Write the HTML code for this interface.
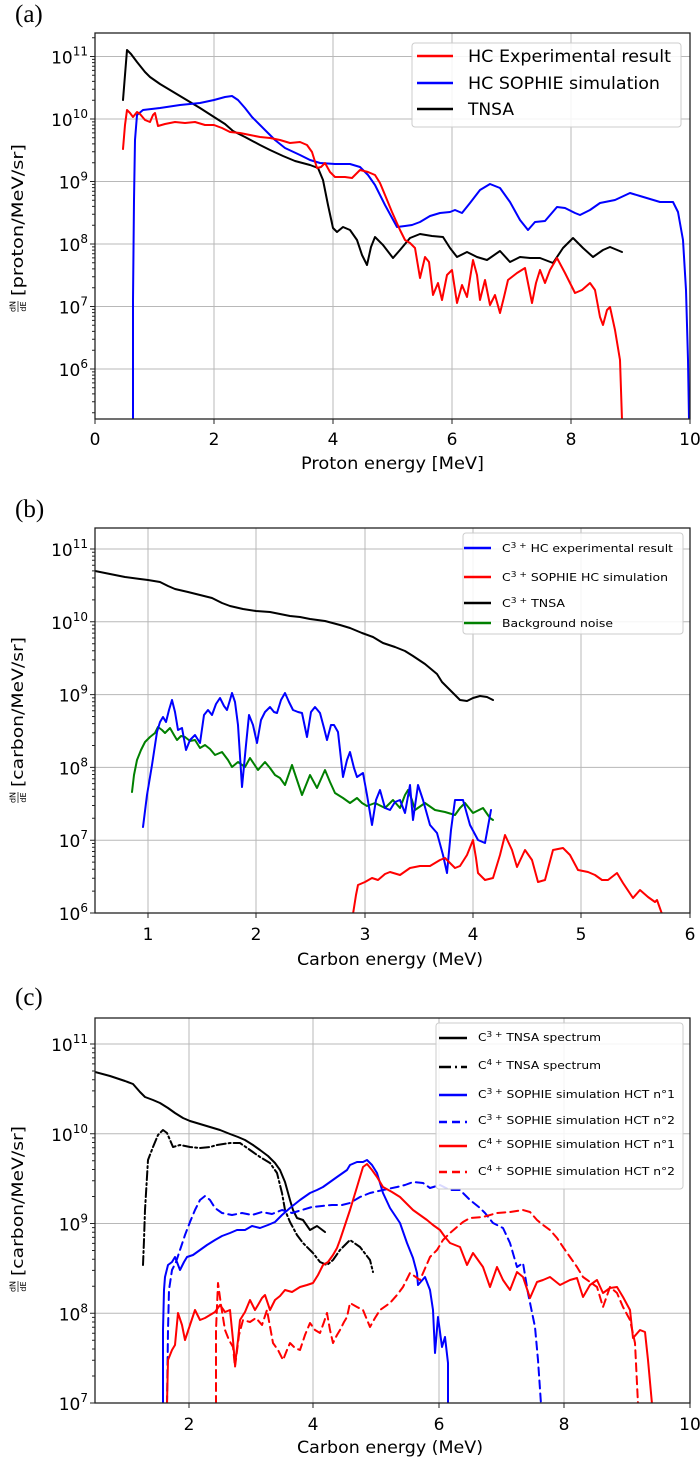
<!DOCTYPE html>
<html><head><meta charset="utf-8"><style>
html,body{margin:0;padding:0;background:#fff;}
svg{display:block;}
text{font-family:"DejaVu Sans","Liberation Sans",sans-serif;fill:#000;}
.ser{font-family:"Liberation Serif",serif;}
.grid{stroke:#b8b8b8;stroke-width:1;fill:none;}
.ax{stroke:#222;stroke-width:1.3;fill:none;}
.tk{stroke:#222;stroke-width:1;fill:none;}
.c{fill:none;stroke-width:2;stroke-linejoin:round;stroke-linecap:round;}
</style></head><body>
<svg width="700" height="1460" viewBox="0 0 700 1460" xmlns="http://www.w3.org/2000/svg">
<defs>
<clipPath id="ca"><rect x="95" y="33" width="595" height="386"/></clipPath>
<clipPath id="cb"><rect x="95" y="528" width="595" height="385"/></clipPath>
<clipPath id="cc"><rect x="95" y="1018" width="595" height="385"/></clipPath>
</defs>

<!-- ================= PANEL A ================= -->
<text class="ser" x="15" y="22" font-size="25">(a)</text>
<path class="grid" d="M214,33V419M333,33V419M452,33V419M571,33V419M95,56.5H690M95,119H690M95,181.5H690M95,244H690M95,306.5H690M95,369H690"/>
<g clip-path="url(#ca)">
<polyline class="c" stroke="#000" points="123,100 127,50 131,54 137,62 145,72 150,77 160,84 170,90 180,96 190,102 200,108 214,117 225,124 233,131 245,137 260,145 270,150 283,156 295,161 310,165 318,168 323,180 328,205 333,228 337,232 343,227 350,230 357,240 362,255 367,265 371,247 375,237 383,245 393,258 400,250 410,238 420,234 432,236 443,237 450,248 457,257 467,252 477,257 487,260 500,251 510,262 520,257 530,258 540,258 553,263 563,248 573,238 583,248 593,257 603,250 610,247 622,252"/>
<polyline class="c" stroke="#0000ff" points="133,419 133,300 134,200 135,140 137,115 143,110 160,108 180,105 200,103 214,100 225,97 232,96 238,100 245,108 252,117 260,125 268,133 275,140 285,148 300,155 310,160 320,163 335,164 350,164 360,167 368,175 375,185 385,205 397,227 405,226 412,225 420,222 430,216 440,213 450,212 455,210 462,213 470,203 480,190 490,184 500,188 510,202 520,220 528,230 535,222 545,221 557,207 565,208 575,213 580,215 590,210 600,203 615,200 630,193 640,196 650,199 660,202 667,202 673,202 678,212 683,240 686,290 688,360 689,419"/>
<polyline class="c" stroke="#ff0000" points="123,149 125,125 127,110 130,113 133,117 137,112 140,114 145,120 150,122 153,115 155,113 158,126 165,124 175,122 185,123 195,122 205,125 214,125 222,128 230,132 240,133 250,135 260,137 270,138 280,140 290,143 300,142 307,145 312,152 317,168 321,167 325,163 330,172 335,177 345,177 352,178 360,170 368,172 375,175 380,183 385,195 392,212 400,230 405,240 410,243 415,248 420,278 425,257 429,262 433,295 438,283 442,300 447,275 452,270 457,303 462,285 467,297 473,260 477,275 480,300 485,280 490,305 495,295 500,313 504,297 508,280 517,273 525,268 532,303 536,283 540,270 545,283 550,270 557,258 565,273 575,293 582,290 590,283 595,290 600,317 603,325 607,310 610,307 615,330 620,360 622,420"/>
</g>
<rect class="ax" x="95" y="33" width="595" height="386"/>
<path class="tk" d="M95,56.5h-5M95,119h-5M95,181.5h-5M95,244h-5M95,306.5h-5M95,369h-5"/>
<path class="tk" d="M95,37.7h-3M95,100.2h-3M95,89.2h-3M95,81.4h-3M95,75.3h-3M95,70.4h-3M95,66.2h-3M95,62.6h-3M95,59.4h-3M95,162.7h-3M95,151.7h-3M95,143.9h-3M95,137.8h-3M95,132.9h-3M95,128.7h-3M95,125.1h-3M95,121.9h-3M95,225.2h-3M95,214.2h-3M95,206.4h-3M95,200.3h-3M95,195.4h-3M95,191.2h-3M95,187.6h-3M95,184.4h-3M95,287.7h-3M95,276.7h-3M95,268.9h-3M95,262.8h-3M95,257.9h-3M95,253.7h-3M95,250.1h-3M95,246.9h-3M95,350.2h-3M95,339.2h-3M95,331.4h-3M95,325.3h-3M95,320.4h-3M95,316.2h-3M95,312.6h-3M95,309.4h-3M95,412.7h-3M95,401.7h-3M95,393.9h-3M95,387.8h-3M95,382.9h-3M95,378.7h-3M95,375.1h-3M95,371.9h-3"/>
<path class="tk" d="M95,419v5M214,419v5M333,419v5M452,419v5M571,419v5M690,419v5"/>
<g font-size="17" text-anchor="end">
<text x="88" y="63.5">10<tspan dy="-8" font-size="12">11</tspan></text>
<text x="88" y="126">10<tspan dy="-8" font-size="12">10</tspan></text>
<text x="88" y="188.5">10<tspan dy="-8" font-size="12">9</tspan></text>
<text x="88" y="251">10<tspan dy="-8" font-size="12">8</tspan></text>
<text x="88" y="313.5">10<tspan dy="-8" font-size="12">7</tspan></text>
<text x="88" y="376">10<tspan dy="-8" font-size="12">6</tspan></text>
</g>
<g font-size="17" text-anchor="middle">
<text x="95" y="445">0</text><text x="214" y="445">2</text><text x="333" y="445">4</text><text x="452" y="445">6</text><text x="571" y="445">8</text><text x="690" y="445">10</text>
</g>
<text x="301" y="469" font-size="17" textLength="183" lengthAdjust="spacingAndGlyphs">Proton energy [MeV]</text>
<g transform="translate(18,313) rotate(-90)">
<text x="6.5" y="-2.5" font-size="8" text-anchor="middle">dN</text>
<line x1="1" y1="0" x2="12" y2="0" stroke="#000" stroke-width="0.7"/>
<text x="6.5" y="8" font-size="8" text-anchor="middle">dE</text>
<text x="17" y="5" font-size="16" textLength="152" lengthAdjust="spacingAndGlyphs">[proton/MeV/sr]</text>
</g>
<rect x="412" y="43" width="269" height="84" rx="3" fill="#fff" fill-opacity="0.85" stroke="#cccccc"/>
<line x1="417" y1="56" x2="453" y2="56" stroke="#ff0000" stroke-width="2.5"/>
<line x1="417" y1="83" x2="453" y2="83" stroke="#0000ff" stroke-width="2.5"/>
<line x1="417" y1="109" x2="453" y2="109" stroke="#000" stroke-width="2.5"/>
<g font-size="17">
<text x="468" y="62" textLength="203" lengthAdjust="spacingAndGlyphs">HC Experimental result</text>
<text x="468" y="89" textLength="192" lengthAdjust="spacingAndGlyphs">HC SOPHIE simulation</text>
<text x="468" y="115" textLength="46" lengthAdjust="spacingAndGlyphs">TNSA</text>
</g>

<!-- ================= PANEL B ================= -->
<text class="ser" x="15" y="517" font-size="25">(b)</text>
<path class="grid" d="M148,528V913M256,528V913M365,528V913M473,528V913M581,528V913M95,549H690M95,621.8H690M95,694.6H690M95,767.4H690M95,840.2H690"/>
<g clip-path="url(#cb)">
<polyline class="c" stroke="#000" points="95,571 110,574 125,577 140,579 148,580 160,582 168,586 175,589 188,592 200,595 212,598 222,603 230,606 243,609 256,611 270,612 290,616 300,617 310,619 325,621 340,625 350,628 362,633 373,637 383,643 395,647 405,651 413,656 425,664 437,674 442,682 447,687 453,693 460,700 467,701 473,698 480,696 487,697 493,700"/>
<polyline class="c" stroke="#008000" points="132,792 134,775 137,760 141,750 145,742 150,737 155,733 158,727 162,730 165,733 170,728 174,735 177,740 181,736 185,737 190,741 195,740 200,748 205,745 210,749 215,755 222,752 228,760 232,767 238,762 245,767 250,758 254,764 258,770 265,762 270,768 275,775 280,778 285,785 292,765 297,780 302,795 310,775 317,788 325,770 330,782 335,793 343,798 350,803 357,798 362,803 367,806 375,803 385,808 393,800 400,808 405,795 408,790 412,800 415,810 425,803 435,810 445,812 455,815 460,808 465,803 473,813 483,808 490,818 493,820"/>
<polyline class="c" stroke="#0000ff" points="143,827 147,795 152,765 157,732 160,722 163,717 166,722 169,710 172,700 175,712 178,730 182,728 186,750 190,740 195,735 200,743 204,715 208,710 212,715 216,704 220,698 224,706 227,710 230,700 232,693 235,702 238,725 242,787 246,745 249,715 253,725 257,743 261,720 265,712 270,707 274,712 277,713 281,700 285,693 289,702 293,710 298,712 302,713 307,737 311,712 315,707 320,713 324,728 327,740 331,725 334,725 338,732 343,777 347,760 350,752 354,768 357,777 363,773 367,795 372,825 376,800 380,790 385,808 390,810 395,802 400,800 405,813 410,785 413,820 418,785 423,800 430,825 437,833 443,855 447,873 451,830 455,800 463,800 470,825 478,840 485,843 491,810"/>
<polyline class="c" stroke="#ff0000" points="353,914 356,895 358,885 365,882 372,878 378,880 385,874 390,872 400,875 410,868 420,866 430,866 440,860 445,858 450,863 455,868 460,866 467,855 473,840 476,858 478,873 485,880 493,878 500,855 505,835 512,850 517,867 525,850 532,860 538,882 545,880 553,850 563,848 570,855 578,870 588,872 595,875 602,880 608,880 617,873 623,883 633,898 640,890 648,897 655,902 657,900 662,914"/>
</g>
<rect class="ax" x="95" y="528" width="595" height="385"/>
<path class="tk" d="M95,549h-5M95,621.8h-5M95,694.6h-5M95,767.4h-5M95,840.2h-5M95,913h-5"/>
<path class="tk" d="M95,599.9h-3M95,587.1h-3M95,578h-3M95,570.9h-3M95,565.2h-3M95,560.3h-3M95,556.1h-3M95,552.3h-3M95,672.7h-3M95,659.9h-3M95,650.8h-3M95,643.7h-3M95,638h-3M95,633.1h-3M95,628.9h-3M95,625.1h-3M95,745.5h-3M95,732.7h-3M95,723.6h-3M95,716.5h-3M95,710.8h-3M95,705.9h-3M95,701.7h-3M95,697.9h-3M95,818.3h-3M95,805.5h-3M95,796.4h-3M95,789.3h-3M95,783.6h-3M95,778.7h-3M95,774.5h-3M95,770.7h-3M95,891.1h-3M95,878.3h-3M95,869.2h-3M95,862.1h-3M95,856.4h-3M95,851.5h-3M95,847.3h-3M95,843.5h-3"/>
<path class="tk" d="M148,913v5M256,913v5M365,913v5M473,913v5M581,913v5M690,913v5"/>
<g font-size="17" text-anchor="end">
<text x="88" y="556">10<tspan dy="-8" font-size="12">11</tspan></text>
<text x="88" y="628.8">10<tspan dy="-8" font-size="12">10</tspan></text>
<text x="88" y="701.6">10<tspan dy="-8" font-size="12">9</tspan></text>
<text x="88" y="774.4">10<tspan dy="-8" font-size="12">8</tspan></text>
<text x="88" y="847.2">10<tspan dy="-8" font-size="12">7</tspan></text>
<text x="88" y="920">10<tspan dy="-8" font-size="12">6</tspan></text>
</g>
<g font-size="17" text-anchor="middle">
<text x="148" y="940">1</text><text x="256" y="940">2</text><text x="365" y="940">3</text><text x="473" y="940">4</text><text x="581" y="940">5</text><text x="690" y="940">6</text>
</g>
<text x="297" y="965" font-size="17" textLength="186" lengthAdjust="spacingAndGlyphs">Carbon energy (MeV)</text>
<g transform="translate(18,804) rotate(-90)">
<text x="6.5" y="-2.5" font-size="8" text-anchor="middle">dN</text>
<line x1="1" y1="0" x2="12" y2="0" stroke="#000" stroke-width="0.7"/>
<text x="6.5" y="8" font-size="8" text-anchor="middle">dE</text>
<text x="17" y="5" font-size="16" textLength="150" lengthAdjust="spacingAndGlyphs">[carbon/MeV/sr]</text>
</g>
<rect x="463" y="533" width="220" height="101" rx="3" fill="#fff" fill-opacity="0.85" stroke="#cccccc"/>
<line x1="464" y1="548" x2="491" y2="548" stroke="#0000ff" stroke-width="2.5"/>
<line x1="464" y1="577" x2="491" y2="577" stroke="#ff0000" stroke-width="2.5"/>
<line x1="464" y1="603" x2="491" y2="603" stroke="#000" stroke-width="2.5"/>
<line x1="464" y1="623" x2="491" y2="623" stroke="#008000" stroke-width="2.5"/>
<g font-size="11">
<text x="502" y="552" textLength="171" lengthAdjust="spacingAndGlyphs">C<tspan dy="-4" font-size="8">3 +</tspan><tspan dy="4"> HC experimental result</tspan></text>
<text x="502" y="581" textLength="166" lengthAdjust="spacingAndGlyphs">C<tspan dy="-4" font-size="8">3 +</tspan><tspan dy="4"> SOPHIE HC simulation</tspan></text>
<text x="502" y="607" textLength="63" lengthAdjust="spacingAndGlyphs">C<tspan dy="-4" font-size="8">3 +</tspan><tspan dy="4"> TNSA</tspan></text>
<text x="502" y="627" textLength="111" lengthAdjust="spacingAndGlyphs">Background noise</text>
</g>

<!-- ================= PANEL C ================= -->
<text class="ser" x="15" y="1005" font-size="25">(c)</text>
<path class="grid" d="M189,1018V1403M313,1018V1403M439,1018V1403M564,1018V1403M95,1044H690M95,1133.75H690M95,1223.5H690M95,1313.25H690"/>
<g clip-path="url(#cc)">
<polyline class="c" stroke="#000" points="95,1072 110,1076 125,1081 133,1084 140,1092 145,1097 153,1100 160,1103 168,1108 175,1113 183,1118 190,1121 200,1124 210,1127 220,1130 230,1134 238,1137 245,1140 253,1145 260,1150 268,1156 275,1163 280,1170 285,1182 290,1200 293,1210 297,1218 303,1220 310,1230 317,1226 325,1232"/>
<polyline class="c" stroke="#000" stroke-dasharray="9,3,2,3" points="143,1265 144,1240 145,1210 148,1160 153,1147 158,1135 163,1130 167,1133 173,1147 180,1145 190,1147 200,1148 210,1147 217,1145 230,1143 240,1143 250,1150 260,1157 270,1163 277,1173 282,1193 285,1210 290,1222 297,1235 303,1243 313,1253 320,1262 327,1265 333,1260 340,1250 350,1240 360,1247 370,1260 373,1272"/>
<polyline class="c" stroke="#0000ff" points="163,1404 163,1330 164,1290 165,1277 168,1265 172,1262 175,1257 180,1270 184,1262 187,1257 193,1255 200,1250 207,1245 215,1240 222,1236 230,1233 237,1230 245,1230 252,1226 260,1228 268,1225 275,1222 282,1215 290,1208 300,1200 310,1193 317,1190 323,1187 330,1182 337,1177 347,1170 350,1165 357,1162 363,1162 367,1160 372,1165 377,1173 383,1193 390,1208 400,1223 407,1243 413,1258 417,1273 418,1285 425,1277 430,1290 433,1310 435,1353 438,1317 442,1347 445,1337 448,1363 448,1404"/>
<polyline class="c" stroke="#0000ff" stroke-dasharray="8,5" points="167,1404 168,1330 169,1290 172,1270 176,1262 180,1250 185,1235 190,1222 195,1210 200,1200 205,1196 210,1200 215,1208 222,1213 232,1215 242,1213 252,1215 262,1212 272,1214 282,1210 292,1213 302,1210 312,1207 322,1206 332,1205 342,1205 350,1203 360,1197 370,1193 383,1190 397,1187 405,1185 413,1182 423,1183 430,1188 440,1185 450,1190 460,1190 470,1200 480,1208 485,1213 493,1223 503,1228 510,1243 517,1267 523,1263 528,1293 535,1327 538,1360 541,1404"/>
<polyline class="c" stroke="#ff0000" points="167,1404 168,1360 172,1350 175,1345 178,1313 182,1325 185,1340 190,1325 195,1310 200,1320 205,1318 210,1315 215,1312 220,1305 225,1312 230,1310 233,1340 235,1365 238,1340 240,1320 245,1312 250,1300 255,1310 258,1305 262,1298 265,1295 270,1310 275,1300 280,1296 285,1290 292,1292 300,1287 307,1285 313,1283 318,1275 323,1265 328,1262 333,1255 337,1248 340,1240 345,1225 350,1210 357,1187 363,1167 367,1164 372,1170 377,1177 383,1187 392,1192 400,1197 410,1207 413,1210 420,1215 427,1220 433,1225 440,1230 445,1237 450,1243 460,1247 467,1265 473,1253 478,1260 483,1267 490,1287 497,1267 503,1280 510,1290 517,1272 523,1277 530,1298 537,1282 543,1280 550,1277 560,1285 570,1280 577,1278 583,1297 590,1285 597,1280 603,1293 610,1288 617,1287 623,1297 630,1310 633,1338 640,1330 645,1332 648,1360 652,1404"/>
<polyline class="c" stroke="#ff0000" stroke-dasharray="8,5" points="216,1404 216,1330 218,1283 221,1305 225,1330 229,1340 233,1347 235,1367 239,1335 243,1320 250,1322 256,1318 262,1325 267,1310 273,1343 278,1350 283,1360 287,1350 290,1343 295,1348 300,1350 305,1335 310,1323 315,1330 320,1333 324,1322 327,1313 330,1330 333,1343 337,1335 340,1330 344,1322 347,1317 350,1303 357,1307 363,1310 370,1327 375,1318 380,1310 390,1303 397,1295 403,1287 410,1273 420,1280 430,1257 437,1250 443,1240 450,1233 457,1227 463,1222 470,1218 483,1217 497,1213 510,1212 523,1210 530,1212 537,1220 543,1225 550,1230 557,1238 563,1247 570,1257 577,1267 583,1277 590,1282 597,1287 603,1307 610,1287 617,1293 623,1307 630,1320 635,1343 638,1404"/>
</g>
<rect class="ax" x="95" y="1018" width="595" height="385"/>
<path class="tk" d="M95,1044h-5M95,1133.75h-5M95,1223.5h-5M95,1313.25h-5M95,1403h-5"/>
<path class="tk" d="M95,1106.7h-3M95,1090.9h-3M95,1079.7h-3M95,1071h-3M95,1063.9h-3M95,1057.9h-3M95,1052.7h-3M95,1048.1h-3M95,1196.5h-3M95,1180.7h-3M95,1169.5h-3M95,1160.8h-3M95,1153.7h-3M95,1147.7h-3M95,1142.5h-3M95,1137.9h-3M95,1286.2h-3M95,1270.4h-3M95,1259.2h-3M95,1250.5h-3M95,1243.4h-3M95,1237.4h-3M95,1232.2h-3M95,1227.6h-3M95,1376h-3M95,1360.2h-3M95,1349h-3M95,1340.3h-3M95,1333.2h-3M95,1327.2h-3M95,1322h-3M95,1317.4h-3"/>
<path class="tk" d="M189,1403v5M313,1403v5M439,1403v5M564,1403v5M690,1403v5"/>
<g font-size="17" text-anchor="end">
<text x="88" y="1051">10<tspan dy="-8" font-size="12">11</tspan></text>
<text x="88" y="1140.75">10<tspan dy="-8" font-size="12">10</tspan></text>
<text x="88" y="1230.5">10<tspan dy="-8" font-size="12">9</tspan></text>
<text x="88" y="1320.25">10<tspan dy="-8" font-size="12">8</tspan></text>
<text x="88" y="1410">10<tspan dy="-8" font-size="12">7</tspan></text>
</g>
<g font-size="17" text-anchor="middle">
<text x="189" y="1430">2</text><text x="313" y="1430">4</text><text x="439" y="1430">6</text><text x="564" y="1430">8</text><text x="690" y="1430">10</text>
</g>
<text x="297" y="1453" font-size="17" textLength="186" lengthAdjust="spacingAndGlyphs">Carbon energy (MeV)</text>
<g transform="translate(18,1293) rotate(-90)">
<text x="6.5" y="-2.5" font-size="8" text-anchor="middle">dN</text>
<line x1="1" y1="0" x2="12" y2="0" stroke="#000" stroke-width="0.7"/>
<text x="6.5" y="8" font-size="8" text-anchor="middle">dE</text>
<text x="17" y="5" font-size="16" textLength="150" lengthAdjust="spacingAndGlyphs">[carbon/MeV/sr]</text>
</g>
<rect x="436" y="1023" width="247" height="166" rx="3" fill="#fff" fill-opacity="0.85" stroke="#cccccc"/>
<line x1="439" y1="1038" x2="467" y2="1038" stroke="#000" stroke-width="2.5"/>
<line x1="439" y1="1067" x2="467" y2="1067" stroke="#000" stroke-width="2.5" stroke-dasharray="12,4,2,4"/>
<line x1="439" y1="1095" x2="467" y2="1095" stroke="#0000ff" stroke-width="2.5"/>
<line x1="439" y1="1122" x2="467" y2="1122" stroke="#0000ff" stroke-width="2.5" stroke-dasharray="8,5"/>
<line x1="439" y1="1146" x2="467" y2="1146" stroke="#ff0000" stroke-width="2.5"/>
<line x1="439" y1="1172" x2="467" y2="1172" stroke="#ff0000" stroke-width="2.5" stroke-dasharray="8,5"/>
<g font-size="11">
<text x="478" y="1041" textLength="123" lengthAdjust="spacingAndGlyphs">C<tspan dy="-4" font-size="8">3 +</tspan><tspan dy="4"> TNSA spectrum</tspan></text>
<text x="478" y="1069" textLength="123" lengthAdjust="spacingAndGlyphs">C<tspan dy="-4" font-size="8">4 +</tspan><tspan dy="4"> TNSA spectrum</tspan></text>
<text x="478" y="1098" textLength="197" lengthAdjust="spacingAndGlyphs">C<tspan dy="-4" font-size="8">3 +</tspan><tspan dy="4"> SOPHIE simulation HCT n°1</tspan></text>
<text x="478" y="1124" textLength="197" lengthAdjust="spacingAndGlyphs">C<tspan dy="-4" font-size="8">3 +</tspan><tspan dy="4"> SOPHIE simulation HCT n°2</tspan></text>
<text x="478" y="1148" textLength="197" lengthAdjust="spacingAndGlyphs">C<tspan dy="-4" font-size="8">4 +</tspan><tspan dy="4"> SOPHIE simulation HCT n°1</tspan></text>
<text x="478" y="1175" textLength="197" lengthAdjust="spacingAndGlyphs">C<tspan dy="-4" font-size="8">4 +</tspan><tspan dy="4"> SOPHIE simulation HCT n°2</tspan></text>
</g>
</svg>
</body></html>
